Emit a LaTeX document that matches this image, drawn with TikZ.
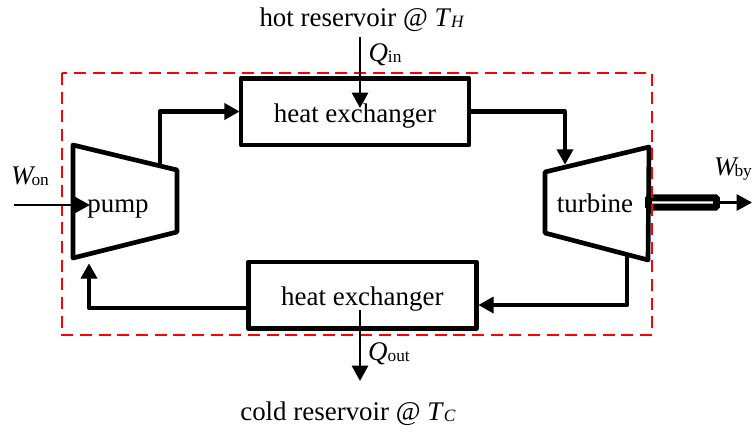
\documentclass[tikz,border=0pt]{standalone}
\usepackage{fontspec}
\setmainfont{Liberation Serif}
\usetikzlibrary{arrows.meta,positioning}
\newcommand{\sublabel}[2]{\textit{#1}\raisebox{-0.7pt}{\fontsize{13}{15}\selectfont #2}}
\newcommand{\templabel}[1]{\textit{T}\raisebox{-0.7pt}{\fontsize{13}{15}\selectfont\textit{#1}}}

\begin{document}
\begin{tikzpicture}[x=0.75pt,y=-0.75pt]

  \tikzset{main node/.style={rectangle, draw, line width=3.5pt, outer sep=0pt,
  		text centered, line join=round, minimum width=171pt, minimum height=50pt}, }
  \tikzset{label node/.style={inner sep=0pt, text height=14pt, text depth=0pt,
  		font=\fontsize{20.2}{24}\selectfont}, }
  \tikzset{machine/.style={line width=3.5pt, line join=round}, }
  \tikzset{linea/.style={line width=3.2pt, line join=round, shorten >=1pt,
  		-{Triangle[length=11.5pt,width=12pt]}}, }
  \tikzset{lineb/.style={line width=2.2pt, -{Triangle[length=11.5pt,width=12pt]}}, }
  \tikzset{shaft/.style={rectangle, draw, fill=white, line width=5.2pt, inner sep=0pt,
  		outer sep=0pt, rounded corners=0.8pt, minimum width=51pt, minimum height=6.85pt}, }
  \useasboundingbox (0,0) rectangle (753,432);

    \node[main node, label node, text height=16pt] (hot) at (355,111.5) {heat exchanger};
    \node[main node, label node, text height=16pt] (cold) [below=87.75pt of hot, xshift=5.5pt] {heat exchanger};

    \coordinate (pump a) at (73,145);
    \coordinate (pump b) at (177,170);
    \coordinate (pump c) at (177,232);
    \coordinate (pump d) at (73,258);
    \coordinate (turbine a) at (545,172);
    \coordinate (turbine b) at (649,147);
    \coordinate (turbine c) at (648,260);
    \coordinate (turbine d) at (545,233);
    \draw[machine] (pump a) -- (pump b) -- (pump c) -- (pump d) -- cycle;
    \draw[machine] (turbine a) -- (turbine b) -- (turbine c) -- (turbine d) -- cycle;

    \node[label node] (pump) at (118,203) {pump};
    \node[label node] (turbine) at (595,203) {turbine};
    \node[shaft] (by shaft) at (682.5,202.5) {};

    \draw[red, line width=1.9pt, dash pattern=on 9pt off 5pt] (62,73) rectangle (652,335);

    \coordinate (pump out) at (160,166);
    \coordinate (pump in) at (89,262);
    \coordinate (turbine in) at (565,166);
    \coordinate (turbine out) at (627,255);
    \coordinate (cold in) at (477,305);
    \coordinate (cold out) at (247.5,308);
    \coordinate (on start) at (14,205);
    \coordinate (on end) at (90,205);
    \coordinate (by end) at (752,202.5);
    \coordinate (in start) at (360,37);
    \coordinate (in end) at (360,108);
    \coordinate (out start) at (360,310);
    \coordinate (out end) at (360,381);

\foreach \x /\y in{pump out/hot.west,turbine out/cold in}
  \draw[linea] (\x) |- (\y);
\foreach \x /\y in{hot.east/turbine in,cold out/pump in}
  \draw[linea] (\x) -| (\y);
\foreach \x /\y in{on start/on end,by shaft.east/by end,in start/in end,out start/out end}
  \draw[lineb] (\x) -- (\y);

    \node[label node] (hot res) at (362,17.5) {hot reservoir @ \templabel{H}};
    \node[label node] (cold res) at (348,411) {cold reservoir @ \templabel{C}};
    \node[label node] (q in) at (385,52) {\sublabel{Q}{in}};
    \node[label node] (q out) at (389,351) {\sublabel{Q}{out}};
    \node[label node] (w on) at (30,175) {\sublabel{W\kern-1.5pt}{on}};
    \node[label node] (w by) at (733,166.5) {\sublabel{W\kern-1.5pt}{by}};
%%
\end{tikzpicture}
\end{document}
